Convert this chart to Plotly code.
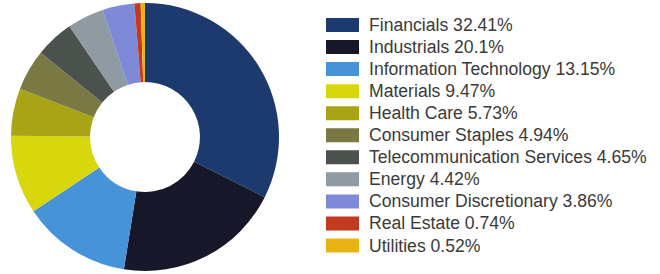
import plotly.graph_objects as go

sectors = ["Financials", "Industrials", "Information Technology", "Materials",
           "Health Care", "Consumer Staples", "Telecommunication Services",
           "Energy", "Consumer Discretionary", "Real Estate", "Utilities"]
weights = [32.41, 20.1, 13.15, 9.47, 5.73, 4.94, 4.65, 4.42, 3.86, 0.74, 0.52]
weight_labels = ["32.41%", "20.1%", "13.15%", "9.47%", "5.73%", "4.94%",
                 "4.65%", "4.42%", "3.86%", "0.74%", "0.52%"]
colors = ["#1c3a6e", "#17172a", "#4693d8", "#d8d70e", "#a9a316", "#7a7944",
          "#4b524d", "#8f9aa2", "#7e89d8", "#c23a1f", "#e8b412"]

W, H = 660, 274

fig = go.Figure()
fig.add_trace(go.Pie(
    labels=sectors, values=weights, hole=0.41, sort=False,
    direction="clockwise", rotation=0,
    marker=dict(colors=colors, line=dict(width=0)),
    textinfo="none", hoverinfo="label+percent", showlegend=False,
    domain=dict(x=[11 / W, 279 / W], y=[3 / H, 271 / H]),
))

shapes = []
annotations = []
row0, step = 25, 22.05
for i, (s, p, c) in enumerate(zip(sectors, weight_labels, colors)):
    yc = row0 + i * step
    shapes.append(dict(type="rect", xref="paper", yref="paper",
                       x0=326 / W, x1=359 / W,
                       y0=1 - (yc - 7) / H, y1=1 - (yc + 7) / H,
                       fillcolor=c, line=dict(width=0)))
    annotations.append(dict(xref="paper", yref="paper", x=367 / W, y=1 - yc / H,
                            xanchor="left", yanchor="middle", showarrow=False,
                            text=f"{s} {p}",
                            font=dict(family="Liberation Sans, Arial", size=17.6,
                                      color="#3a3a3a")))

fig.update_layout(width=W, height=H, margin=dict(l=0, r=0, t=0, b=0),
                  paper_bgcolor="white", plot_bgcolor="white",
                  shapes=shapes, annotations=annotations)

fig.write_html("out.html", config={"displayModeBar": False},
               post_script="document.body.style.margin='0';document.body.style.overflow='hidden';")
